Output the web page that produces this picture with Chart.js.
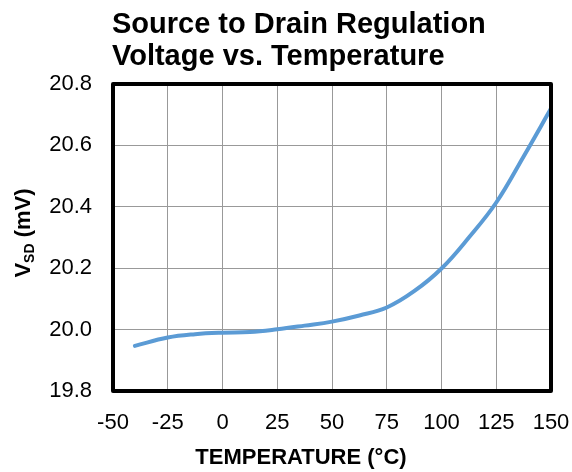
<!DOCTYPE html>
<html>
<head>
<meta charset="utf-8">
<script src="https://cdn.jsdelivr.net/npm/chart.js@4/dist/chart.umd.min.js"></script>
<style>
html,body{margin:0;padding:0;background:#fff;}
#wrap{width:572px;height:472px;position:relative;}
</style>
</head>
<body>
<div id="wrap"><canvas id="c" width="572" height="472"></canvas></div>
<script>
const temperatures = [-40, -25, -12.5, 0, 12.5, 25, 37.5, 50, 62.5, 75, 87.5, 100, 112.5, 125, 137.5, 150];
const vsd = [19.947, 19.974, 19.985, 19.990, 19.992, 20.001, 20.013, 20.026, 20.046, 20.072, 20.125, 20.199, 20.300, 20.414, 20.564, 20.720];
const xTicks = [-50, -25, 0, 25, 50, 75, 100, 125, 150];
const yTicks = [19.8, 20.0, 20.2, 20.4, 20.6, 20.8];
const titleLines = ["Source to Drain Regulation", "Voltage vs. Temperature"];
const xTitle = "TEMPERATURE (°C)";
const yTitleMain = "V", yTitleSub = "SD", yTitleRest = " (mV)";

const points = temperatures.map((t, i) => ({x: t, y: vsd[i]}));

const textPlugin = {
  id: 'texts',
  afterDraw(chart) {
    const ctx = chart.ctx;
    const a = chart.chartArea;
    ctx.save();
    ctx.strokeStyle = '#000';
    ctx.lineWidth = 4;
    ctx.lineJoin = 'round';
    ctx.strokeRect(a.left, a.top, a.right - a.left, a.bottom - a.top);
    ctx.fillStyle = '#000';
    ctx.font = 'bold 29px "Liberation Sans", Arial, sans-serif';
    ctx.textAlign = 'left';
    ctx.textBaseline = 'alphabetic';
    ctx.fillText(titleLines[0], 112, 33);
    ctx.fillText(titleLines[1], 112, 65);
    ctx.font = 'bold 22px "Liberation Sans", Arial, sans-serif';
    ctx.textAlign = 'center';
    ctx.textBaseline = 'middle';
    ctx.fillText(xTitle, 301, 458);
    ctx.translate(22, 233);
    ctx.rotate(-Math.PI / 2);
    const fMain = 'bold 22px "Liberation Sans", Arial, sans-serif';
    const fSub = 'bold 14px "Liberation Sans", Arial, sans-serif';
    ctx.font = fMain; const w1 = ctx.measureText(yTitleMain).width;
    const w3 = ctx.measureText(yTitleRest).width;
    ctx.font = fSub; const w2 = ctx.measureText(yTitleSub).width;
    const total = w1 + w2 + w3;
    let x = -total / 2;
    ctx.textAlign = 'left';
    ctx.textBaseline = 'alphabetic';
    ctx.font = fMain; ctx.fillText(yTitleMain, x, 8); x += w1;
    ctx.font = fSub; ctx.fillText(yTitleSub, x, 12); x += w2;
    ctx.font = fMain; ctx.fillText(yTitleRest, x, 8);
    ctx.restore();
  }
};

new Chart(document.getElementById('c'), {
  type: 'line',
  data: {
    datasets: [{
      data: points,
      borderColor: '#5B9BD5',
      borderWidth: 4,
      pointRadius: 0,
      fill: false,
      tension: 0.4,
      borderCapStyle: 'round'
    }]
  },
  options: {
    responsive: false,
    animation: false,
    devicePixelRatio: 1,
    layout: {padding: {left: 0, top: 84, right: 21, bottom: 0}},
    plugins: {legend: {display: false}, tooltip: {enabled: false}, title: {display: false}},
    scales: {
      x: {
        type: 'linear',
        min: -50, max: 150,
        afterBuildTicks(s) { s.ticks = xTicks.map(v => ({value: v})); },
        afterFit(s) { s.height = 81; s.paddingLeft = 0; s.paddingRight = 0; },
        grid: {color: '#999', lineWidth: 1, drawTicks: false},
        border: {display: false},
        ticks: {
          color: '#000', padding: 19, maxRotation: 0, autoSkip: false,
          font: {family: '"Liberation Sans", Arial, sans-serif', size: 22},
          callback: v => String(v)
        }
      },
      y: {
        type: 'linear',
        min: 19.8, max: 20.8,
        afterBuildTicks(s) { s.ticks = yTicks.map(v => ({value: v})); },
        afterFit(s) { s.width = 113; s.paddingTop = 0; s.paddingBottom = 0; },
        grid: {color: '#999', lineWidth: 1, drawTicks: false},
        border: {display: false},
        ticks: {
          color: '#000', padding: 21, autoSkip: false,
          font: {family: '"Liberation Sans", Arial, sans-serif', size: 22},
          callback: v => Number(v).toFixed(1)
        }
      }
    }
  },
  plugins: [textPlugin]
});
</script>
</body>
</html>
